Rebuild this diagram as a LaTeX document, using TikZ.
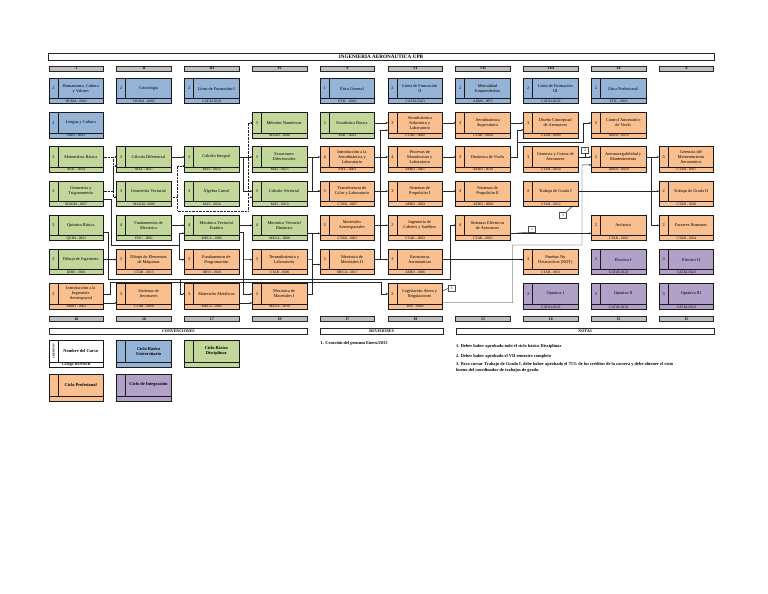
\documentclass[tikz,border=0pt]{standalone}
\usepackage{fontspec}
\setmainfont{Liberation Serif}
\usetikzlibrary{arrows.meta}
\definecolor{cblue}{HTML}{95B3D7}
\definecolor{cgreen}{HTML}{C4D79B}
\definecolor{corange}{HTML}{FABF8F}
\definecolor{cpurple}{HTML}{B1A0C7}
\definecolor{cgray}{HTML}{BFBFBF}
\tikzset{
  crsbox/.style={draw=black!90, line width=0.8pt, minimum width=54.5pt, minimum height=25.5pt, inner sep=0pt, outer sep=0pt},
  crsline/.style={draw=black!90, line width=0.8pt},
  txt/.style={inner sep=0pt, font=\fontsize{4.3}{4.9}\selectfont},
  codetxt/.style={inner sep=0pt, font=\fontsize{3.6}{4}\selectfont},
  hdrbox/.style={draw=black!85, fill=cgray, line width=0.8pt, minimum width=54.5pt, minimum height=5pt, inner sep=0pt, font=\bfseries\fontsize{3.8}{3.8}\selectfont},
  barbox/.style={draw=black!85, fill=white, line width=0.8pt, inner sep=0pt},
  bartxt/.style={inner sep=0pt, font=\bfseries\fontsize{4}{4}\selectfont},
  arr/.style={-{Stealth[length=2.2pt,width=1.9pt]}, line width=0.45pt, draw=black!85},
  ln/.style={line width=0.45pt, draw=black!85},
  dotarr/.style={arr, dash pattern=on 0.7pt off 0.7pt},
  dotln/.style={ln, dash pattern=on 0.7pt off 0.7pt},
  notebox/.style={draw=black!70, fill=white, line width=0.4pt, minimum width=7pt, minimum height=6pt, inner sep=0pt, font=\fontsize{3.6}{3.6}\selectfont},
  notetxt/.style={inner sep=0pt, font=\bfseries\fontsize{4.4}{5.7}\selectfont},
}
\newcommand{\crs}[7]{%
  \pgfmathsetmacro{\crsX}{49+67.8*(#2-1)+27.25}%
  \pgfmathsetmacro{\crsY}{78.3+34.2*(#3-1)+12.75}%
  \node[crsbox, fill=#7] (#1) at (\crsX,\crsY) {};
  \draw[crsline] ([xshift=9pt]#1.north west) -- ([xshift=9pt,yshift=5pt]#1.south west);
  \draw[crsline] ([yshift=5pt]#1.south west) -- ([yshift=5pt]#1.south east);
  \node[txt] (#1-cr) at ([xshift=4.5pt,yshift=-10.25pt]#1.north west) {#4};
  \node[txt, align=center] (#1-nm) at ([xshift=31.75pt,yshift=-10.25pt]#1.north west) {#5};
  \node[codetxt] (#1-cd) at ([yshift=2.5pt]#1.south) {#6};
  \coordinate (#1-e) at ([yshift=2.5pt]#1.east);
  \coordinate (#1-w) at ([yshift=2.5pt]#1.west);
}
\newcommand{\hdr}[4]{%
  \pgfmathsetmacro{\crsX}{49+67.8*(#2-1)+27.25}%
  \node[hdrbox] (#1) at (\crsX,#3) {#4};
}
\newcommand{\lgd}[5]{% name, x left, y top, fill, text
  \node[crsbox, fill=#4, minimum height=26.6pt, anchor=north west] (#1) at (#2,#3) {};
  \draw[crsline] ([xshift=9pt]#1.north west) -- ([xshift=9pt,yshift=5pt]#1.south west);
  \draw[crsline] ([yshift=5pt]#1.south west) -- ([yshift=5pt]#1.south east);
  \node[txt, font=\bfseries\fontsize{4.4}{5}\selectfont, align=center] (#1-nm) at ([xshift=31.75pt,yshift=-10.5pt]#1.north west) {#5};
}
\begin{document}
\begin{tikzpicture}[x=1pt,y=-1pt]
\useasboundingbox (0,0) rectangle (768,594);
\fill[white] (0,0) rectangle (768,594);

% title
\node[barbox, minimum width=665.7pt, minimum height=6.7pt, anchor=north west] (title) at (48,53.3) {};
\node[bartxt, font=\bfseries\fontsize{5.2}{5.2}\selectfont] (titletxt) at (381,56.7) {INGENIERÍA AERONÁUTICA UPB};

% headers
\hdr{h1}{1}{68.5}{I}
\hdr{h2}{2}{68.5}{II}
\hdr{h3}{3}{68.5}{III}
\hdr{h4}{4}{68.5}{IV}
\hdr{h5}{5}{68.5}{V}
\hdr{h6}{6}{68.5}{VI}
\hdr{h7}{7}{68.5}{VII}
\hdr{h8}{8}{68.5}{VIII}
\hdr{h9}{9}{68.5}{IX}
\hdr{h10}{10}{68.5}{X}
\hdr{b1}{1}{319.2}{18}
\hdr{b2}{2}{319.2}{18}
\hdr{b3}{3}{319.2}{17}
\hdr{b4}{4}{319.2}{19}
\hdr{b5}{5}{319.2}{17}
\hdr{b6}{6}{319.2}{19}
\hdr{b7}{7}{319.2}{15}
\hdr{b8}{8}{319.2}{16}
\hdr{b9}{9}{319.2}{15}
\hdr{b10}{10}{319.2}{15}

% courses
\crs{c11}{1}{1}{2}{Humanismo, Cultura\\y Valores}{HUMA - 0002}{cblue}
\crs{c12}{1}{2}{2}{Lengua y Cultura}{IDIO - 0001}{cblue}
\crs{c13}{1}{3}{3}{Matemática Básica}{MAT - 0004}{cgreen}
\crs{c14}{1}{4}{3}{Geometría y\\Trigonometría}{MAGM - 0007}{cgreen}
\crs{c15}{1}{5}{3}{Química Básica}{QUIM - 0001}{cgreen}
\crs{c16}{1}{6}{3}{Dibujo de Ingeniería}{DIBU - 0001}{cgreen}
\crs{c17}{1}{7}{2}{Introducción a la\\Ingeniería\\Aeroespacial}{AERO - 0001}{corange}

\crs{c21}{2}{1}{2}{Cristología}{HUMA - 0003}{cblue}
\crs{c23}{2}{3}{3}{Cálculo Diferencial}{MAT - 0027}{cgreen}
\crs{c24}{2}{4}{3}{Geometría Vectorial}{MAGM - 0006}{cgreen}
\crs{c25}{2}{5}{4}{Fundamentos de\\Mecánica}{FISC - 0001}{cgreen}
\crs{c26}{2}{6}{3}{Dibujo de Elementos\\de Máquinas}{CTAR - 0015}{corange}
\crs{c27}{2}{7}{3}{Sistemas de\\Aeronaves}{CTAR - 0008}{corange}

\crs{c31}{3}{1}{2}{Línea de Formación I}{CATÁLOGO}{cblue}
\crs{c33}{3}{3}{3}{Cálculo Integral}{MAT - 0023}{cgreen}
\crs{c34}{3}{4}{3}{Álgebra Lineal}{MAT - 0024}{cgreen}
\crs{c35}{3}{5}{4}{Mecánica Vectorial\\Estática}{MECA - 0026}{cgreen}
\crs{c36}{3}{6}{3}{Fundamentos de\\Programación}{INFO - 0010}{corange}
\crs{c37}{3}{7}{3}{Materiales Metálicos}{MECA - 0025}{corange}

\crs{c42}{4}{2}{3}{Métodos Numéricos}{MAAN - 0010}{cgreen}
\crs{c43}{4}{3}{3}{Ecuaciones\\Diferenciales}{MAT - 0025}{cgreen}
\crs{c44}{4}{4}{3}{Cálculo Vectorial}{MAT - 0010}{cgreen}
\crs{c45}{4}{5}{4}{Mecánica Vectorial\\Dinámica}{MECA - 0008}{cgreen}
\crs{c46}{4}{6}{3}{Termodinámica y\\Laboratorio}{CTAR - 0006}{corange}
\crs{c47}{4}{7}{3}{Mecánica de\\Materiales I}{MECA - 0010}{corange}

\crs{c51}{5}{1}{1}{Ética General}{ETIC - 0002}{cblue}
\crs{c52}{5}{2}{3}{Estadística Básica}{MAT - 0012}{cgreen}
\crs{c53}{5}{3}{4}{Introducción a la\\Aerodinámica y\\Laboratorio}{FIFL - 0001}{corange}
\crs{c54}{5}{4}{3}{Transferencia de\\Calor y Laboratorio}{CTAR - 0007}{corange}
\crs{c55}{5}{5}{3}{Materiales\\Aeroespaciales}{CTAR - 0001}{corange}
\crs{c56}{5}{6}{3}{Mecánica de\\Materiales II}{MECA - 0017}{corange}

\crs{c61}{6}{1}{2}{Línea de Formación\\II}{CATÁLOGO}{cblue}
\crs{c62}{6}{2}{3}{Aerodinámica\\Subsónica y\\Laboratorio}{CTAR - 0002}{corange}
\crs{c63}{6}{3}{4}{Procesos de\\Manufactura y\\Laboratorio}{AERO - 0007}{corange}
\crs{c64}{6}{4}{3}{Sistemas de\\Propulsión I}{AERO - 0003}{corange}
\crs{c65}{6}{5}{2}{Ingeniería de\\Cohetes y Satélites}{CTAR - 0003}{corange}
\crs{c66}{6}{6}{3}{Estructuras\\Aeronáuticas}{AERO - 0006}{corange}
\crs{c67}{6}{7}{2}{Legislación Aérea y\\Regulaciones}{DJU - 0002}{corange}

\crs{c71}{7}{1}{2}{Mentalidad\\Emprendedora}{ADMI - 0071}{cblue}
\crs{c72}{7}{2}{3}{Aerodinámica\\Supersónica}{CTAR - 0004}{corange}
\crs{c73}{7}{3}{3}{Dinámica de Vuelo}{AERO - 0010}{corange}
\crs{c74}{7}{4}{3}{Sistemas de\\Propulsión II}{AERO - 0008}{corange}
\crs{c75}{7}{5}{4}{Sistemas Eléctricos\\de Aeronaves}{CTAR - 0005}{corange}

\crs{c81}{8}{1}{2}{Línea de Formación\\III}{CATÁLOGO}{cblue}
\crs{c82}{8}{2}{3}{Diseño Conceptual\\de Aeronaves}{CTAR - 0009}{corange}
\crs{c83}{8}{3}{3}{Gerencia y Costos de\\Aeronaves}{CTAR - 0010}{corange}
\crs{c84}{8}{4}{2}{Trabajo de Grado I}{CTAR - 0012}{corange}
\crs{c86}{8}{6}{3}{Pruebas No\\Destructivas (NDT)}{CTAR - 0011}{corange}
\crs{c87}{8}{7}{3}{Optativa I}{CATÁLOGO}{cpurple}

\crs{c91}{9}{1}{2}{Ética Profesional}{ETIC - 0003}{cblue}
\crs{c92}{9}{2}{3}{Control Automático\\de Vuelo}{AERO - 0019}{corange}
\crs{c93}{9}{3}{2}{Aeronavegabilidad y\\Mantenimiento}{AERO - 0020}{corange}
\crs{c95}{9}{5}{2}{Aviónica}{CTAR - 0016}{corange}
\crs{c96}{9}{6}{3}{Electiva I}{CATÁLOGO}{cpurple}
\crs{c97}{9}{7}{3}{Optativa II}{CATÁLOGO}{cpurple}

\crs{c103}{10}{3}{3}{Gerencia del\\Mantenimiento\\Aeronáutico}{CTAR - 0017}{corange}
\crs{c104}{10}{4}{2}{Trabajo de Grado II}{CTAR - 0018}{corange}
\crs{c105}{10}{5}{2}{Factores Humanos}{CTAR - 0014}{corange}
\crs{c106}{10}{6}{3}{Electiva II}{CATÁLOGO}{cpurple}
\crs{c107}{10}{7}{3}{Optativa III}{CATÁLOGO}{cpurple}

% dotted connectors
\draw[dotarr] (c13-e) -- (c23-w);
\draw[dotarr] (c13-e) -- ++(9.5,0) |- ([yshift=-6pt]c24-w);
\draw[dotarr] (c14-e) -- ++(9.5,0) |- ([yshift=-9pt]c23-w);
\draw[dotln] ([yshift=-6pt]c24-e) -- ++(6,0) coordinate (j1);
\draw[dotarr] (j1) |- ([yshift=-9pt]c33-w);
\draw[dotarr] (j1) -- (177.3,210.8) -| (248.3,122.75) -- (c42-w);
\coordinate (j2) at (248.3,197.15);
\draw[dotarr] (j2) -- ([yshift=-6pt]c44-w);

% solid connectors
\draw[arr] (c23-e) -- (c33-w);
\draw[arr] (c33-e) -- (c43-w);
\draw[arr] (c33-e) -- ++(4,0) |- (c44-w);
\draw[arr] (c25-e) -- (c35-w);
\draw[arr] (c35-e) -- (c45-w);
\draw[arr] (c16-e) -- (c26-w);
\draw[arr] ([yshift=-9pt]c17-e) -- ([yshift=-9pt]c27-w);
\draw[arr] (c17-e) -- ++(6.5,0) |- (381.5,281.9) |- (c67-w);
\draw[arr] ([yshift=-7pt]c15-e) -- ++(4.5,0) |- (180.5,279.3) |- (c37-w);
\coordinate (j3) at (180.5,279.3);
\draw[arr] (j3) -- (450,279.3) |- (c75-w);
\draw[arr] ([yshift=-8pt]c14-e) -- ++(8.2,0) |- (179,245) |- ([yshift=-8pt]c35-w);
\coordinate (j4) at (179,245);
\draw[arr] (j4) |- (c36-w);
\draw[arr] ([yshift=-7pt]c35-e) -- ++(4,0) |- (c47-w);
\coordinate (j5) at (243.1,259.55);
\draw[arr] (j5) -- (c46-w);
\draw[arr] ([yshift=-9pt]c37-e) -- ([yshift=-9pt]c47-w);
\draw[arr] ([yshift=-8pt]c45-e) -- ([yshift=-8pt]c55-w);
\draw[ln] (c46-e) -- (312.4,259.55);
\draw[arr] (c47-e) -- ++(5.5,0) |- ([yshift=-5pt]c56-w);
\draw[ln] (312.4,233.35) -- (312.4,264.55);
\draw[arr] (c43-e) -- (c53-w);
\draw[arr] (c43-e) -- ++(5,0) |- (c54-w);
\draw[arr] (c44-e) -- (c54-w);
\draw[arr] (c52-e) -- (c62-w);
\draw[arr] (c53-e) -- (c63-w);
\draw[arr] (c54-e) -- (c64-w);
\draw[arr] (c55-e) -- (c65-w);
\draw[arr] (c56-e) -- (c66-w);
\coordinate (j6) at (380.5,156.95);
\draw[arr] (j6) |- ([yshift=-7.5pt]c62-w);
\draw[ln] (j6) -- (380.5,259.55);
\draw[arr] (c62-e) -- (c72-w);
\draw[arr] (c72-e) -- (c82-w);
\draw[arr] (c63-e) -- (c73-w);
\draw[arr] (c64-e) -- (c74-w);
\draw[arr] (c66-e) -- (c86-w);
\draw[arr] (c73-e) -- ++(6.5,0) |- ([yshift=-7pt]c82-w);
\coordinate (j7) at (516.8,142.6);
\draw[arr] (j7) -- (583.5,142.6) |- (c92-w);
\draw[arr] (c83-e) -- (c93-w);
\draw[arr] (c93-e) -- (c103-w);
\coordinate (j8) at (651.7,156.95);
\draw[arr] (j8) |- (c105-w);
\draw[arr] (c84-e) -- (c104-w);
\draw[arr] ([yshift=-8pt]c75-e) -- ([yshift=-8pt]c95-w);
\draw[arr] ([yshift=-9pt]c67-e) -- (512.5,302.75) |- (582,245) |- ([yshift=-8pt]c93-w);

% note markers
\node[notebox] (nt3a) at (451.5,288.5) {3};
\draw[ln] ([yshift=5pt]c67.east) -- (nt3a.west);
\node[notebox] (nt1) at (532,229) {1};
\draw[ln] (514,233.35) -- (nt1.south west);
\node[notebox] (nt2) at (585,150) {2};
\draw[ln] (nt2.south) -- (585,156.95);
\node[notebox] (nt3b) at (563,215) {3};
\draw[ln] (nt3b.north east) -- ([xshift=-6pt]c84.south east);

% bottom bars
\node[barbox, minimum width=257.9pt, minimum height=5.7pt, anchor=north west] (conv) at (49,328.3) {};
\node[bartxt] (convtxt) at (conv.center) {CONVENCIONES};
\node[barbox, minimum width=122.3pt, minimum height=5.7pt, anchor=north west] (rev) at (320.2,328.3) {};
\node[bartxt] (revtxt) at (rev.center) {REVISIONES};
\node[barbox, minimum width=257.9pt, minimum height=5.7pt, anchor=north west] (notas) at (455.8,328.3) {};
\node[bartxt] (notastxt) at (notas.center) {NOTAS};

% legend
\lgd{lg1}{49}{340.7}{white}{Nombre del Curso}
\node[inner sep=0pt, rotate=90, font=\bfseries\fontsize{2.8}{2.8}\selectfont] (lg1-cr) at ([xshift=4.5pt,yshift=-10.5pt]lg1.north west) {CRÉDITOS};
\node[inner sep=0pt, font=\bfseries\fontsize{3.8}{3.8}\selectfont] (lg1-cd) at ([yshift=2.5pt]lg1.south) {Código BANNER};
\lgd{lg2}{116.8}{340.7}{cblue}{Ciclo Básico\\Universitario}
\lgd{lg3}{184.6}{340.7}{cgreen}{Ciclo Básico\\Disciplinar}
\lgd{lg4}{49}{374.3}{corange}{Ciclo Profesional}
\lgd{lg5}{116.8}{374.3}{cpurple}{Ciclo de Integración}

% revisions and notes
\node[notetxt, anchor=west] (rv1) at (320.5,343.3) {1. Creación del pensum Enero/2015};
\node[notetxt, anchor=west] (nn1) at (455.8,346.7) {1. Deber haber aprobado todo el ciclo básico Disciplinar};
\node[notetxt, anchor=west] (nn2) at (455.8,356.7) {2. Deber haber aprobado el VII semestre completo};
\node[notetxt, anchor=north west, align=left] (nn3) at (455.8,362.7) {3. Para cursar Trabajo de Grado I, debe haber aprobado el 75\% de los créditos de la carrera y debe obtener el visto\\bueno del coordinador de trabajos de grado.};
\end{tikzpicture}
\end{document}
